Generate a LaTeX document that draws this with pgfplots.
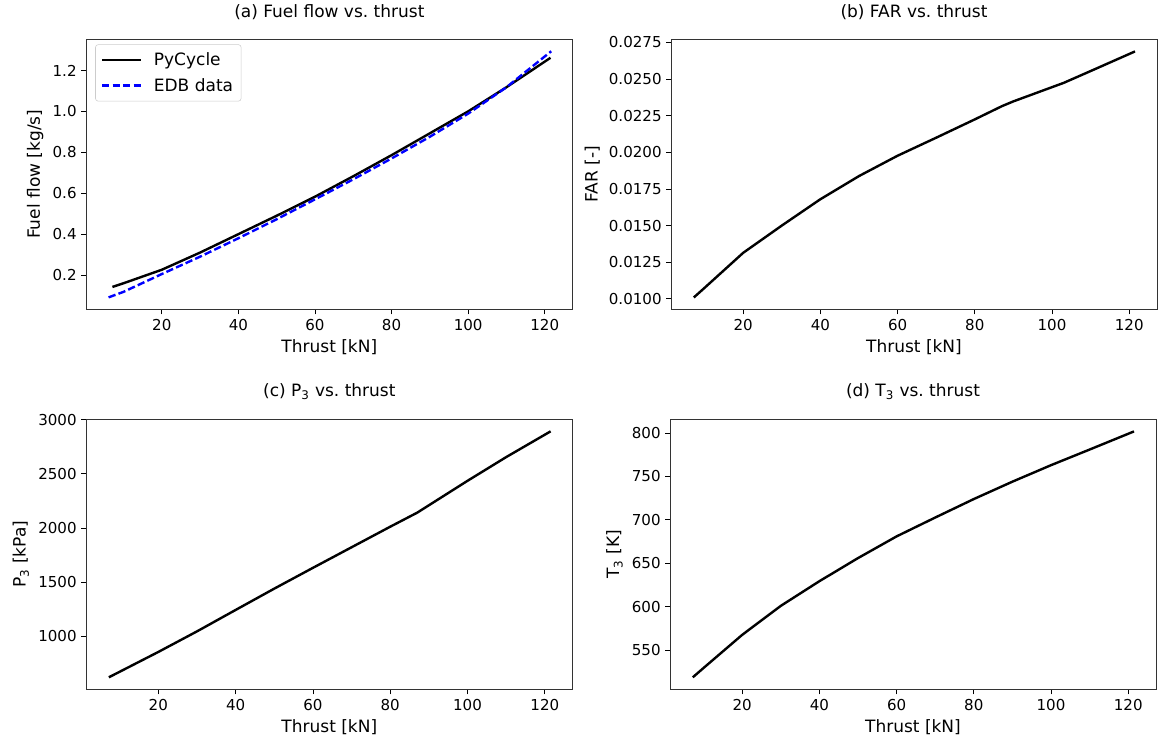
\documentclass[border=0pt]{standalone}
\usepackage{fontspec}
\setmainfont{DejaVu Sans}
\usepackage{pgfplots}
\pgfplotsset{compat=1.18}

\pgfplotsset{
  myax/.style={
    scale only axis, width=365pt, height=203pt,
    axis line style={line width=0.6pt, black!80},
    tick align=outside, tick pos=left, major tick length=3.5pt,
    tick style={black, line width=0.6pt},
    ticklabel style={font=\fontsize{11.3}{13}\selectfont},
    label style={font=\fontsize{12.75}{15}\selectfont},
    title style={font=\fontsize{12.75}{15}\selectfont, yshift=5pt},
    /pgf/number format/assume math mode=true,
    /pgf/number format/1000 sep={},
    xmin=1.3, xmax=127.2, xtick={20,40,60,80,100,120},
    xlabel={Thrust [kN]},
    scaled y ticks=false,
    every axis plot/.append style={line width=1.8pt, line join=round},
  }
}

\begin{document}
\begin{tikzpicture}
\path (0,0) rectangle (869.25pt,-558pt);

% (a)
\begin{axis}[myax, at={(64.5pt,-228pt)}, anchor=south west,
  xmin=0.2, xmax=127.3, ymin=0.031, ymax=1.354,
  ytick={0.2,0.4,0.6,0.8,1.0,1.2},
  yticklabel style={/pgf/number format/.cd, fixed, fixed zerofill, precision=1},
  ylabel={Fuel flow [kg/s]},
  title={(a) Fuel flow vs.\ thrust},
  legend style={at={(0.019,0.98)}, anchor=north west, draw=black!20, rounded corners=2pt,
    font=\fontsize{12.75}{15}\selectfont, inner sep=4pt, row sep=4pt},
  legend cell align=left,
  legend image code/.code={\draw[#1] (0pt,0pt) -- (29pt,0pt); \path (36pt,0pt);},
]
\addplot[black] coordinates {
(7.1,0.142) (10,0.160) (20,0.226) (30,0.310) (40,0.400) (50,0.490) (60,0.583)
(70,0.683) (80,0.786) (90,0.893) (100,1.000) (110,1.118) (121.5,1.262)
};
\addlegendentry{PyCycle}
\addplot[blue, dash pattern=on 5.5pt off 2.4pt] coordinates {
(6.1,0.091) (10,0.118) (20,0.205) (30,0.290) (40,0.380) (50,0.473) (60,0.570)
(70,0.668) (80,0.770) (90,0.876) (100,0.989) (110,1.118) (121.7,1.294)
};
\addlegendentry{EDB data}
\end{axis}

% (b)
\begin{axis}[myax, at={(503.25pt,-228pt)}, anchor=south west, width=364.5pt,
  ymin=0.00926, ymax=0.02774,
  ytick={0.0100,0.0125,0.0150,0.0175,0.0200,0.0225,0.0250,0.0275},
  yticklabel style={/pgf/number format/.cd, fixed, fixed zerofill, precision=4},
  ylabel={FAR [-]},
  title={(b) FAR vs.\ thrust},
]
\addplot[black] coordinates {
(7.2,0.01009) (10,0.01075) (20,0.01314) (30,0.01500) (40,0.01680)
(50,0.01838) (60,0.01977) (70,0.02100) (80,0.02225) (87,0.02315) (90,0.02348)
(100,0.02445) (103,0.02474) (110,0.02555) (121.5,0.02689)
};
\end{axis}

% (c)
\begin{axis}[myax, at={(64.5pt,-513pt)}, anchor=south west,
  ymin=507, ymax=3007,
  ytick={1000,1500,2000,2500,3000},
  ylabel={P\textsubscript{3} [kPa]},
  title={(c) P\textsubscript{3} vs.\ thrust},
]
\addplot[black] coordinates {
(7.2,621) (10,672) (20,855) (30,1045) (40,1243) (50,1440) (60,1632) (70,1822)
(80,2012) (87,2142) (100,2436) (110,2655) (121.5,2893)
};
\end{axis}

% (d)
\begin{axis}[myax, at={(502.5pt,-513pt)}, anchor=south west, width=364.5pt,
  ymin=504.5, ymax=816.2,
  ytick={550,600,650,700,750,800},
  ylabel={T\textsubscript{3} [K]},
  title={(d) T\textsubscript{3} vs.\ thrust},
]
\addplot[black] coordinates {
(7.2,518.7) (10,529.5) (20,567.6) (30,601) (40,629.4) (50,656) (60,681)
(70,702.7) (80,724.0) (90,744.0) (100,763) (110,781) (121.5,801.9)
};
\end{axis}
\end{tikzpicture}
\end{document}
